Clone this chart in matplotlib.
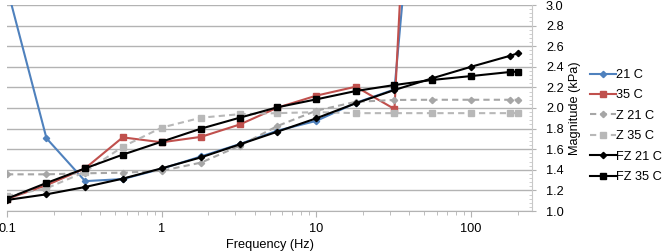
import numpy as np
import matplotlib
matplotlib.use("Agg")
import matplotlib.pyplot as plt
from matplotlib.ticker import FixedLocator, FixedFormatter, NullFormatter, MultipleLocator, FormatStrFormatter

plt.rcParams['font.family'] = ['Liberation Sans', 'DejaVu Sans']

freq = [0.1, 0.18, 0.32, 0.56, 1, 1.8, 3.2, 5.6, 10, 18, 32, 56, 100, 180, 200]
nan = np.nan
c21 = [3.17, 1.706, 1.29, 1.31, 1.41, 1.53, 1.65, 1.78, 1.875, 2.05, 2.18, 6.2, nan, nan, nan]
c35 = [1.117, 1.25, 1.414, 1.715, 1.667, 1.72, 1.84, 2.003, 2.12, 2.207, 1.99, 9.16, nan, nan, nan]
z21 = [1.356, 1.356, 1.366, 1.372, 1.39, 1.47, 1.634, 1.825, 1.974, 2.06, 2.078, 2.08, 2.08, 2.08, 2.08]
z35 = [1.146, 1.22, 1.38, 1.624, 1.81, 1.906, 1.94, 1.95, 1.96, 1.95, 1.95, 1.95, 1.95, 1.95, 1.95]
fz21 = [1.107, 1.162, 1.233, 1.314, 1.414, 1.521, 1.647, 1.77, 1.90, 2.046, 2.175, 2.288, 2.40, 2.508, 2.53]
fz35 = [1.12, 1.272, 1.414, 1.547, 1.673, 1.80, 1.906, 2.007, 2.084, 2.165, 2.223, 2.272, 2.31, 2.35, 2.353]

xticks = [0.1, 1, 10, 100]
xticklabels = ['0.1', '1', '10', '100']

W, H = 665, 252
fig = plt.figure(figsize=(W/100, H/100), dpi=100)
ax = fig.add_axes([7/W, 1-211/H, (532-7)/W, (211-5)/H])

ax.plot(freq, c21, color='#4F81BD', lw=1.5, marker='D', ms=3.2, label='21 C', zorder=3)
ax.plot(freq, c35, color='#C0504D', lw=1.5, marker='s', ms=4.5, label='35 C', zorder=3)
ax.plot(freq, z21, color='#A6A6A6', lw=1.5, ls=(0, (3, 2)), marker='D', ms=3.2, label='Z 21 C', zorder=3)
ax.plot(freq, z35, color='#B8B8B8', lw=1.5, ls=(0, (3, 2)), marker='s', ms=4.8, label='Z 35 C', zorder=3)
ax.plot(freq, fz21, color='black', lw=1.5, marker='D', ms=3.2, label='FZ 21 C', zorder=4)
ax.plot(freq, fz35, color='black', lw=1.5, marker='s', ms=4.8, label='FZ 35 C', zorder=4)

ax.set_xscale('log')
ax.set_xlim(0.1, 248)
ax.set_ylim(1.0, 3.0)

ax.xaxis.set_major_locator(FixedLocator(xticks))
ax.xaxis.set_major_formatter(FixedFormatter(xticklabels))
ax.xaxis.set_minor_formatter(NullFormatter())

ax.yaxis.tick_right()
ax.yaxis.set_label_position('right')
ax.yaxis.set_major_locator(MultipleLocator(0.2))
ax.yaxis.set_minor_locator(MultipleLocator(0.04))
ax.yaxis.set_major_formatter(FormatStrFormatter('%.1f'))

ax.grid(axis='y', which='major', color='#B3B3B3', lw=1.0, zorder=0)
for s in ['top', 'left']:
    ax.spines[s].set_visible(False)
ax.spines['bottom'].set_color('#B3B3B3')
ax.spines['right'].set_color('#C8C8C8')

fs = 9.2
ax.tick_params(axis='x', which='both', direction='out', color='#B3B3B3', labelsize=fs, pad=4.5)
ax.tick_params(axis='x', which='major', length=4)
ax.tick_params(axis='x', which='minor', length=3)
ax.tick_params(axis='y', which='major', direction='out', length=3, color='#B3B3B3', labelsize=fs, pad=7)
ax.tick_params(axis='y', which='minor', direction='in', length=2, color='#C8C8C8')

ax.set_xlabel('Frequency (Hz)', fontsize=fs, labelpad=3)
ax.set_ylabel('Magnitude (kPa)', fontsize=fs, labelpad=4)

leg = fig.legend(loc='upper left', bbox_to_anchor=(590/W, 1-69/H), frameon=False,
                 fontsize=9.2, handlelength=2.0, handletextpad=0.05, labelspacing=0.66,
                 borderaxespad=0, borderpad=0)

fig.savefig('out.png', dpi=100)
